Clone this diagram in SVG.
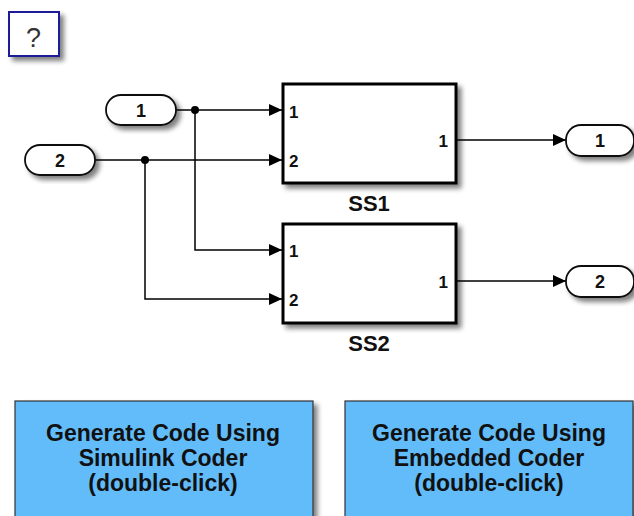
<svg xmlns="http://www.w3.org/2000/svg" width="634" height="516" viewBox="0 0 634 516">
<style>
.lbl{font-family:"Liberation Sans",Arial,sans-serif;font-weight:bold;fill:#111}
.port{font-size:17px}
.pill{fill:#fff;stroke:#111;stroke-width:1.8}
.blk{fill:#fff;stroke:#000;stroke-width:3}
.btn{fill:#62bcfa;stroke:#333;stroke-width:1.2}
.wire{fill:none;stroke:#000;stroke-width:1.5}
.btxt{font-size:23px;text-anchor:middle}
</style>
<defs>
<filter id="sh" x="-20%" y="-20%" width="150%" height="150%">
<feGaussianBlur in="SourceAlpha" stdDeviation="2.5"/>
<feOffset dx="4" dy="4" result="b"/>
<feComponentTransfer><feFuncA type="linear" slope="0.5"/></feComponentTransfer>
<feMerge><feMergeNode/><feMergeNode in="SourceGraphic"/></feMerge>
</filter>
<marker id="arr" markerUnits="userSpaceOnUse" markerWidth="14" markerHeight="12" refX="13" refY="6" orient="auto">
<path d="M0,0 L13,6 L0,12 Z" fill="#000"/>
</marker>
</defs>

<g id="help">
<rect x="9" y="12" width="50" height="44" fill="#fff" stroke="#1c1c96" stroke-width="2" filter="url(#sh)"/>
<text x="33.5" y="47" font-family="'Liberation Sans',Arial,sans-serif" font-size="27" fill="#333" text-anchor="middle">?</text>
</g>

<g id="connectors">
<path class="wire" d="M176,110 H282" marker-end="url(#arr)"/>
<path class="wire" d="M95,160 H282" marker-end="url(#arr)"/>
<path class="wire" d="M195,110 V250 H282" marker-end="url(#arr)"/>
<path class="wire" d="M145,160 V299 H282" marker-end="url(#arr)"/>
<path class="wire" d="M456,140 H566" marker-end="url(#arr)"/>
<path class="wire" d="M456,281 H566" marker-end="url(#arr)"/>
<circle cx="195" cy="110" r="4" fill="#000"/>
<circle cx="145" cy="160" r="4" fill="#000"/>
</g>

<g id="in1">
<rect class="pill" x="106" y="95" width="70" height="30" rx="15" filter="url(#sh)"/>
<text class="lbl" x="141" y="117" font-size="18" text-anchor="middle">1</text>
</g>
<g id="in2">
<rect class="pill" x="25" y="145" width="70" height="30" rx="15" filter="url(#sh)"/>
<text class="lbl" x="60" y="167" font-size="18" text-anchor="middle">2</text>
</g>

<g id="SS1">
<rect class="blk" x="283" y="84" width="173" height="99" filter="url(#sh)"/>
<text class="lbl port" x="289" y="118">1</text>
<text class="lbl port" x="289" y="167">2</text>
<text class="lbl port" x="448" y="147" text-anchor="end">1</text>
<text class="lbl" x="369" y="211" font-size="22" text-anchor="middle">SS1</text>
</g>

<g id="SS2">
<rect class="blk" x="283" y="224" width="173" height="99" filter="url(#sh)"/>
<text class="lbl port" x="289" y="257">1</text>
<text class="lbl port" x="289" y="306">2</text>
<text class="lbl port" x="448" y="288" text-anchor="end">1</text>
<text class="lbl" x="369" y="351" font-size="22" text-anchor="middle">SS2</text>
</g>

<g id="out1">
<rect class="pill" x="566" y="125" width="68" height="31" rx="15" filter="url(#sh)"/>
<text class="lbl" x="600" y="147" font-size="18" text-anchor="middle">1</text>
</g>
<g id="out2">
<rect class="pill" x="566" y="266" width="68" height="31" rx="15" filter="url(#sh)"/>
<text class="lbl" x="600" y="288" font-size="18" text-anchor="middle">2</text>
</g>

<g id="btnSimulink">
<rect class="btn" x="15" y="401" width="298" height="130" filter="url(#sh)"/>
<text class="lbl btxt" x="163" y="441">Generate Code Using</text>
<text class="lbl btxt" x="163" y="466">Simulink Coder</text>
<text class="lbl btxt" x="163" y="491">(double-click)</text>
</g>
<g id="btnEmbedded">
<rect class="btn" x="345" y="401" width="288" height="130" filter="url(#sh)"/>
<text class="lbl btxt" x="489" y="441">Generate Code Using</text>
<text class="lbl btxt" x="489" y="466">Embedded Coder</text>
<text class="lbl btxt" x="489" y="491">(double-click)</text>
</g>
</svg>
